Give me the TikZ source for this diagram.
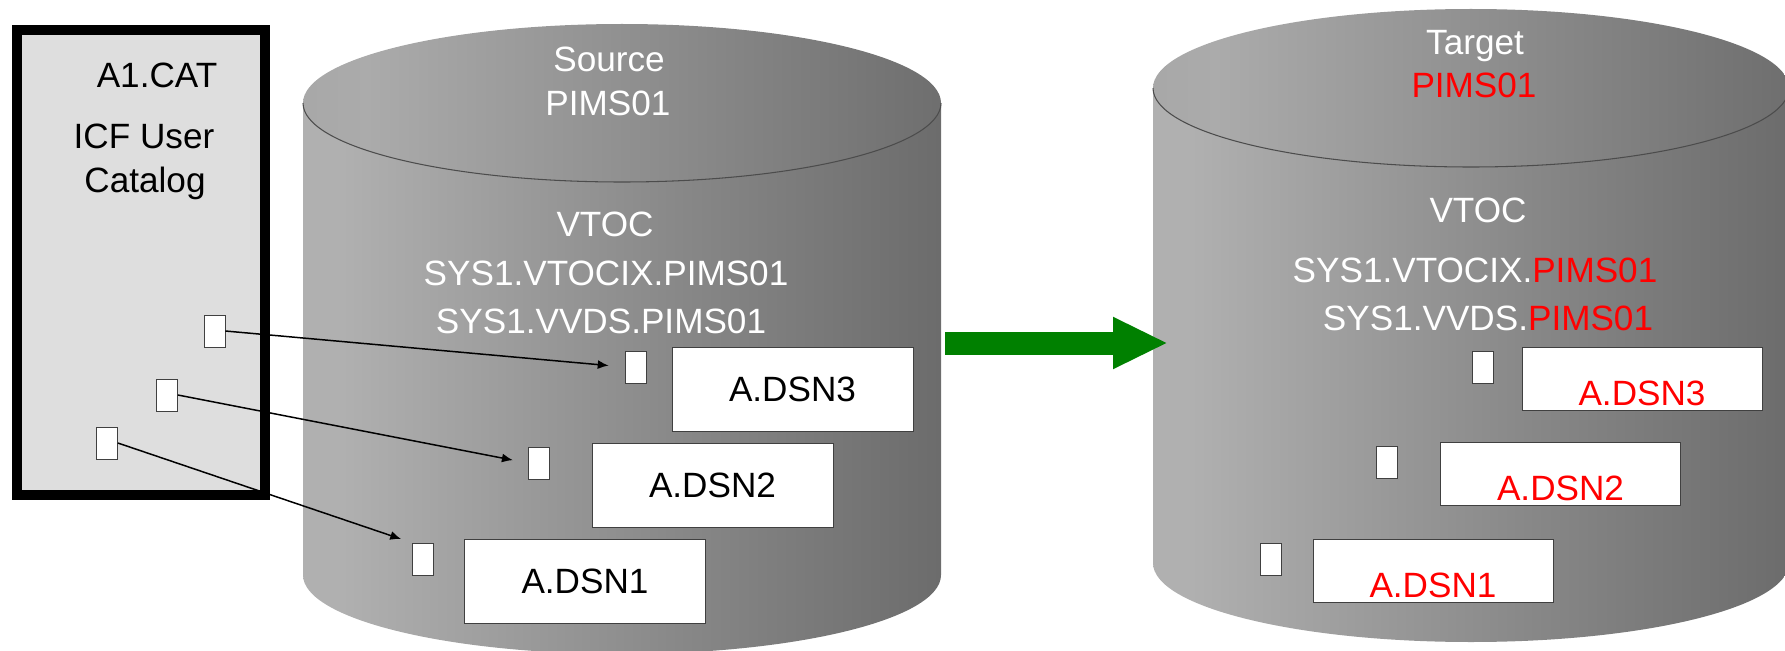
\documentclass[tikz,border=0pt]{standalone}
\usepackage{fontspec}
\setmainfont{Liberation Sans}
\usetikzlibrary{arrows.meta}
\pgfdeclarehorizontalshading{drumside}{100bp}{color(0bp)=(black!38); color(8bp)=(black!32); color(28bp)=(black!31); color(55bp)=(black!47); color(85bp)=(black!63); color(100bp)=(black!72)}
\pgfdeclarehorizontalshading{drumtop}{100bp}{color(0bp)=(black!40); color(30bp)=(black!33); color(55bp)=(black!46); color(100bp)=(black!70)}
\definecolor{catgray}{HTML}{DEDEDE}
\definecolor{copygreen}{HTML}{008000}

\begin{document}
\begin{tikzpicture}[
      >={Latex[length=2.2mm,width=1.8mm]},
      font=\fontsize{20}{24}\selectfont,
      ptr/.style={
        draw=black!75,fill=white,minimum width=0.42cm,minimum height=0.64cm,inner sep=0pt
      },
      dsbox/.style={
        draw=black!75,fill=white,minimum width=4.82cm,minimum height=1.68cm,inner sep=0pt
      },
      newbox/.style={
        draw=black!75,fill=white,minimum width=4.8cm,minimum height=1.26cm,inner sep=0pt
      },
      disk/.style={white,anchor=base},
      ptrline/.style={line width=0.85pt,->},
    ]
    \useasboundingbox (0,0) rectangle (35.7,-13.02);
    % source volume
    \shade[shading=drumside] (6.06,-2.06) -- (6.06,-11.5) arc[start angle=180,end angle=360,x radius=6.38,y radius=1.58] -- (18.82,-2.06) -- cycle;
    \shade[shading=drumtop] (12.44,-2.06) ellipse[x radius=6.38,y radius=1.58];
    \draw[black!70,line width=0.6pt] (6.06,-2.06) arc[start angle=180,end angle=360,x radius=6.38,y radius=1.58];
    % target volume
    \shade[shading=drumside] (23.06,-1.76) -- (23.06,-11.26) arc[start angle=180,end angle=360,x radius=6.36,y radius=1.58] -- (35.78,-1.76) -- cycle;
    \shade[shading=drumtop] (29.42,-1.76) ellipse[x radius=6.36,y radius=1.58];
    \draw[black!70,line width=0.6pt] (23.06,-1.76) arc[start angle=180,end angle=360,x radius=6.36,y radius=1.58];

    \node[disk] at (12.18,-1.44) {Source};
    \node[disk] at (12.16,-2.30) {PIMS01};
    \node[disk] at (12.10,-4.72) {VTOC};
    \node[disk] at (12.12,-5.70) {SYS1.VTOCIX.PIMS01};
    \node[disk] at (12.02,-6.66) {SYS1.VVDS.PIMS01};
    \node[disk] at (29.50,-1.10) {Target};
    \node[disk,red] at (29.48,-1.96) {PIMS01};
    \node[disk] at (29.56,-4.44) {VTOC};
    \node[disk] at (29.50,-5.64) {SYS1.VTOCIX.\textcolor{red}{PIMS01}};
    \node[disk] at (29.76,-6.60) {SYS1.VVDS.\textcolor{red}{PIMS01}};

    % user catalog
    \node[draw,line width=2mm,fill=catgray,minimum width=4.96cm,minimum height=9.3cm] (cat) at (2.82,-5.25) {};
    \node[anchor=base] at (3.14,-1.76) {A1.CAT};
    \node[anchor=base] at (2.88,-2.96) {ICF User};
    \node[anchor=base] at (2.90,-3.84) {Catalog};
    \node[ptr] (c1) at (4.29,-6.62) {};
    \node[ptr] (c2) at (3.34,-7.90) {};
    \node[ptr] (c3) at (2.14,-8.86) {};

    % data sets on source
    \node[ptr] (sa) at (12.71,-7.34) {};
    \node[ptr] (sb) at (10.77,-9.26) {};
    \node[ptr] (sc) at (8.45,-11.18) {};
    \node[dsbox] (s3) at (15.85,-7.78) {A.DSN3};
    \node[dsbox] (s2) at (14.25,-9.70) {A.DSN2};
    \node[dsbox] (s1) at (11.70,-11.62) {A.DSN1};

    % data sets on target
    \node[ptr] (ta) at (29.66,-7.34) {};
    \node[ptr] (tb) at (27.74,-9.25) {};
    \node[ptr] (tc) at (25.42,-11.18) {};
    \node[newbox] (t3) at (32.84,-7.57) {};
    \node[newbox] (t2) at (31.21,-9.48) {};
    \node[newbox] (t1) at (28.66,-11.41) {};
    \node[red,anchor=base] at ([yshift=1mm]t3.south) {A.DSN3};
    \node[red,anchor=base] at ([yshift=1mm]t2.south) {A.DSN2};
    \node[red,anchor=base] at ([yshift=1mm]t1.south) {A.DSN1};

    \draw[ptrline,shorten >=0.32cm] (c1.east) -- (sa.west);
    \draw[ptrline,shorten >=0.3cm] (c2.east) -- (sb.west);
    \draw[ptrline,shorten >=0.22cm] (c3.east) -- (sc.north west);

    % copy
    \coordinate (go) at (18.90,-6.86);
    \coordinate (arrive) at (23.36,-6.86);
    \draw[copygreen,line width=0.46cm,-{Triangle[width=0.96cm,length=1.1cm]}] (go) -- (arrive);
  \end{tikzpicture}
\end{document}
